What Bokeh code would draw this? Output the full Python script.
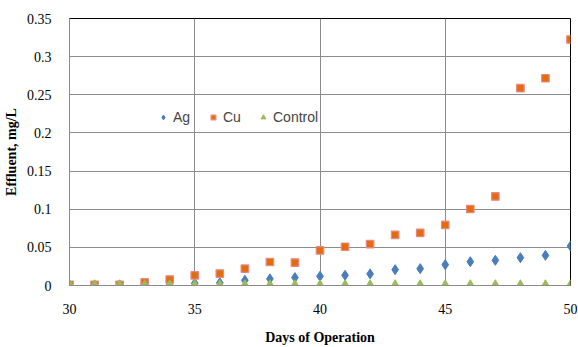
from bokeh.plotting import figure
from bokeh.models import ColumnDataSource, Legend, LegendItem, FixedTicker
from bokeh.embed import file_html
from bokeh.resources import INLINE

days = list(range(30, 51))
ag = [0.0005, 0.0005, 0.0005, 0.0005, 0.0005, 0.003, 0.0035, 0.0069, 0.0087, 0.0104,
      0.0121, 0.0134, 0.0152, 0.0208, 0.0221, 0.0273, 0.0312, 0.033, 0.0365, 0.0395, 0.0517]
cu = [0.001, 0.001, 0.001, 0.004, 0.0078, 0.0134, 0.0156, 0.022, 0.0308, 0.030,
      0.046, 0.0508, 0.0543, 0.0664, 0.069, 0.0794, 0.1003, 0.1168, 0.2587, 0.2717, 0.3225]
control = [0.0] * 21
x_ticks = [30, 35, 40, 45, 50]
y_ticks = [0, 0.05, 0.1, 0.15, 0.2, 0.25, 0.3, 0.35]
y_labels = ["0", "0.05", "0.1", "0.15", "0.2", "0.25", "0.3", "0.35"]

src = ColumnDataSource(dict(days=days, ag=ag, cu=cu, control=control))

p = figure(width=578, height=347, output_backend="svg", toolbar_location=None,
           x_range=(30, 50), y_range=(0, 0.35),
           min_border_left=65, min_border_right=8, min_border_top=18, min_border_bottom=60)

p.outline_line_color = "black"
p.outline_line_width = 1
grid_col = "#8c8c8c"
p.xgrid.grid_line_color = grid_col
p.ygrid.grid_line_color = grid_col
p.xgrid.grid_line_width = 1
p.ygrid.grid_line_width = 1.2

p.xaxis.ticker = FixedTicker(ticks=x_ticks)
p.yaxis.ticker = FixedTicker(ticks=y_ticks)
p.yaxis.major_label_overrides = {t: l for t, l in zip(y_ticks, y_labels)}
for ax in (p.xaxis, p.yaxis):
    ax.axis_line_color = "#8c8c8c"
    ax.major_tick_line_color = None
    ax.minor_tick_line_color = None
    ax.major_label_text_font = "Liberation Serif"
    ax.major_label_text_font_size = "14px"
    ax.major_label_text_color = "black"
    ax.axis_label_text_font = "Liberation Serif"
    ax.axis_label_text_font_size = "14px"
    ax.axis_label_text_font_style = "bold"
    ax.axis_label_text_color = "black"
p.xaxis.axis_label = "Days of Operation"
p.yaxis.axis_label = "Effluent, mg/L"
p.xaxis.major_label_standoff = 12
p.xaxis.axis_label_standoff = 13
p.yaxis.major_label_standoff = 12
p.yaxis.axis_label_standoff = 5

r_ag = p.scatter("days", "ag", source=src, marker="diamond", size=10,
                 fill_color="#4a7ebb", line_color="#4a7ebb")
r_cu = p.scatter("days", "cu", source=src, marker="square", size=7.5,
                 fill_color="#e46c0a", line_color="#e58a8a", line_width=1.2)
r_ct = p.scatter("days", "control", source=src, marker="triangle", size=10,
                 fill_color="#9bbb59", line_color="#9bbb59")

legend = Legend(items=[LegendItem(label="Ag", renderers=[r_ag]),
                       LegendItem(label="Cu", renderers=[r_cu]),
                       LegendItem(label="Control", renderers=[r_ct])],
                orientation="horizontal", location=(88, 160),
                background_fill_alpha=0, border_line_color=None,
                label_text_font="Liberation Sans", label_text_font_size="14px",
                glyph_width=12, glyph_height=12, spacing=14, label_standoff=4,
                padding=2, margin=0)
p.add_layout(legend, "center")

open("out.html", "w").write(file_html(p, INLINE))
